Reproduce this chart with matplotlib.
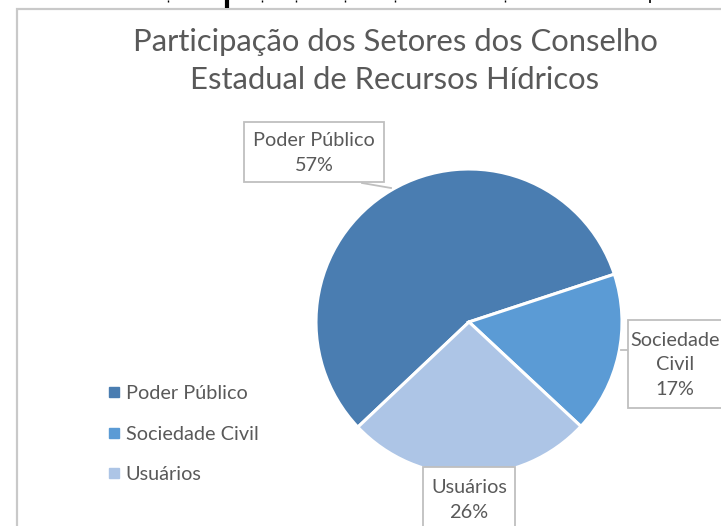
import matplotlib
matplotlib.use("Agg")
import matplotlib.pyplot as plt
from matplotlib.lines import Line2D
from matplotlib.patches import Rectangle

categories = ["Poder Público", "Sociedade Civil", "Usuários"]
values = [57, 17, 26]
label_text = ["Poder Público", "Sociedade\nCivil", "Usuários"]
colors = ["#4a7db1", "#5b9bd5", "#adc5e6"]
title = "Participação dos Setores dos Conselho\nEstadual de Recursos Hídricos"

W, H = 721, 526
FONT = "Lato"
GRAY = "#595959"

fig = plt.figure(figsize=(W / 100, H / 100), dpi=100)
fig.patch.set_facecolor("white")

def fx(px):
    return px / W

def fy(py):
    return 1 - py / H

# chart frame
fig.patches.append(Rectangle((fx(17), fy(H + 10)), fx(W + 20), (H + 10 - 9) / H,
                             transform=fig.transFigure, fill=False,
                             edgecolor="#c9c9c9", linewidth=1.6))

# remnants of the cropped document line above the chart
for (x0, y1, lw) in [(227, 8, 3.0), (168, 2, 1.0), (262, 2, 1.0), (296, 2, 1.0),
                     (345, 2, 1.0), (395, 2, 1.0), (505, 2, 1.0), (650, 3, 1.2)]:
    fig.add_artist(Line2D([fx(x0), fx(x0)], [fy(0), fy(y1)], transform=fig.transFigure,
                          color="black", lw=lw, solid_capstyle="butt"))

fig.text(fx(395), fy(61), title, ha="center", va="center", fontsize=22.3,
         family=FONT, color=GRAY, linespacing=1.47)

cx, cy, r = 469, 322, 153
ax = fig.add_axes([fx(cx - r), fy(cy + r), 2 * r / W, 2 * r / H])
wedges, _ = ax.pie(values, colors=colors, startangle=223.4, counterclock=False,
                   radius=1, wedgeprops=dict(edgecolor="white", linewidth=2.2))
ax.set_xlim(-1, 1)
ax.set_ylim(-1, 1)
ax.set_aspect("auto")
ax.axis("off")

# callout labels (box centre in px, line from box to slice edge)
boxes = [
    dict(center=(314, 152), size=(140, 60), tip=(391, 188), base=(362, 183),
         text=(314, 153)),
    dict(center=(680, 364), size=(104, 88), tip=(621, 350), base=(628, 350),
         text=(675, 365)),
    dict(center=(469, 503), size=(92, 72), tip=(469, 468), base=(469, 468),
         text=(469, 500)),
]
for txt, v, b in zip(label_text, values, boxes):
    (bx, by), (bw, bh) = b["center"], b["size"]
    fig.patches.append(Rectangle((fx(bx - bw / 2), fy(by + bh / 2)), bw / W, bh / H,
                                 transform=fig.transFigure, facecolor="white",
                                 edgecolor="#bfbfbf", linewidth=1.3, zorder=3))
    fig.add_artist(Line2D([fx(b["base"][0]), fx(b["tip"][0])],
                          [fy(b["base"][1]), fy(b["tip"][1])],
                          transform=fig.transFigure, color="#bfbfbf", lw=1.3))
    tx, ty = b["text"]
    fig.text(fx(tx), fy(ty), f"{txt}\n{v}%", ha="center", va="center",
             fontsize=14.3, family=FONT, color=GRAY, linespacing=1.55, zorder=4)

handles = [Line2D([], [], marker="s", ls="", color=c, markersize=7) for c in colors]
leg = fig.legend(handles, categories, loc="center left",
                 bbox_to_anchor=(fx(90), fy(434)), frameon=False,
                 handlelength=0.6, handletextpad=0.3, labelspacing=1.2,
                 prop=dict(family=FONT, size=14.3))
for t in leg.get_texts():
    t.set_color(GRAY)

fig.savefig("out.png", dpi=100)
